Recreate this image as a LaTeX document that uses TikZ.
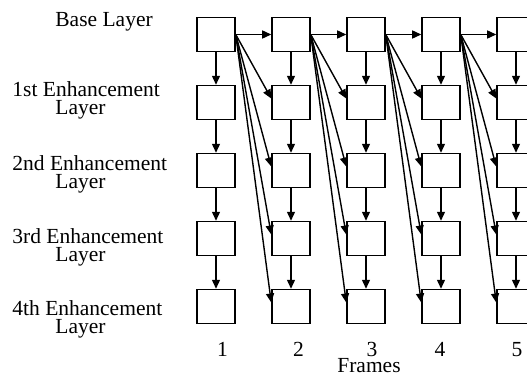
\documentclass[tikz,border=0pt]{standalone}
\usepackage{fontspec}
\setmainfont{Liberation Serif}
\usetikzlibrary{arrows.meta}
\begin{document}
\begin{tikzpicture}[x=0.5pt,y=-0.5pt,>={Triangle[length=4.5pt,width=4pt]},
    frame/.style={draw,rectangle,line width=0.75pt,minimum width=19pt,minimum height=17pt,inner sep=0pt},
    link/.style={->,line width=0.7pt},
    lbl/.style={font=\fontsize{10.75}{9}\selectfont,inner sep=0pt}]
    \useasboundingbox (0,0) rectangle (527,376);
    % layer labels
    \node[lbl,anchor=west] (base) at (55,21.5) {Base Layer};
    \node[lbl,anchor=west,align=left] (enh1) at (12,100.5) {1st Enhancement\\\hspace*{2em}Layer};
    \node[lbl,anchor=west,align=left] (enh2) at (12,174) {2nd Enhancement\\\hspace*{2em}Layer};
    \node[lbl,anchor=west,align=left] (enh3) at (12,247) {3rd Enhancement\\\hspace*{2em}Layer};
    \node[lbl,anchor=west,align=left] (enh4) at (12,319) {4th Enhancement\\\hspace*{2em}Layer};
    % frames: column c, layer r
    \foreach \c in {1,...,5}
        \foreach \r in {0,...,4}
            \node[frame] (f\c\r) at ({216+75*(\c-1)},{34.5+68*\r}) {};
    % frame numbers
    \foreach \c/\x in {1/222.5,2/298.5,3/372,4/440,5/517}
        \node[lbl,anchor=base] (num\c) at (\x,356) {\c};
    \node[lbl,anchor=base] (frames) at (369,372.5) {Frames};
    % inside one frame
    \foreach \c in {1,...,5}
        \foreach \r/\s in {0/1,1/2,2/3,3/4}
            \draw[link] (f\c\r) -- (f\c\s);
    % base layer to the next frame
    \foreach \c/\d in {1/2,2/3,3/4,4/5} {
        \draw[link] (f\c0) -- (f\d0);
        \foreach \r in {1,...,4}
            \draw[link] (f\c0.east) -- ([yshift=2pt]f\d\r.west);
    }
\end{tikzpicture}
\end{document}
